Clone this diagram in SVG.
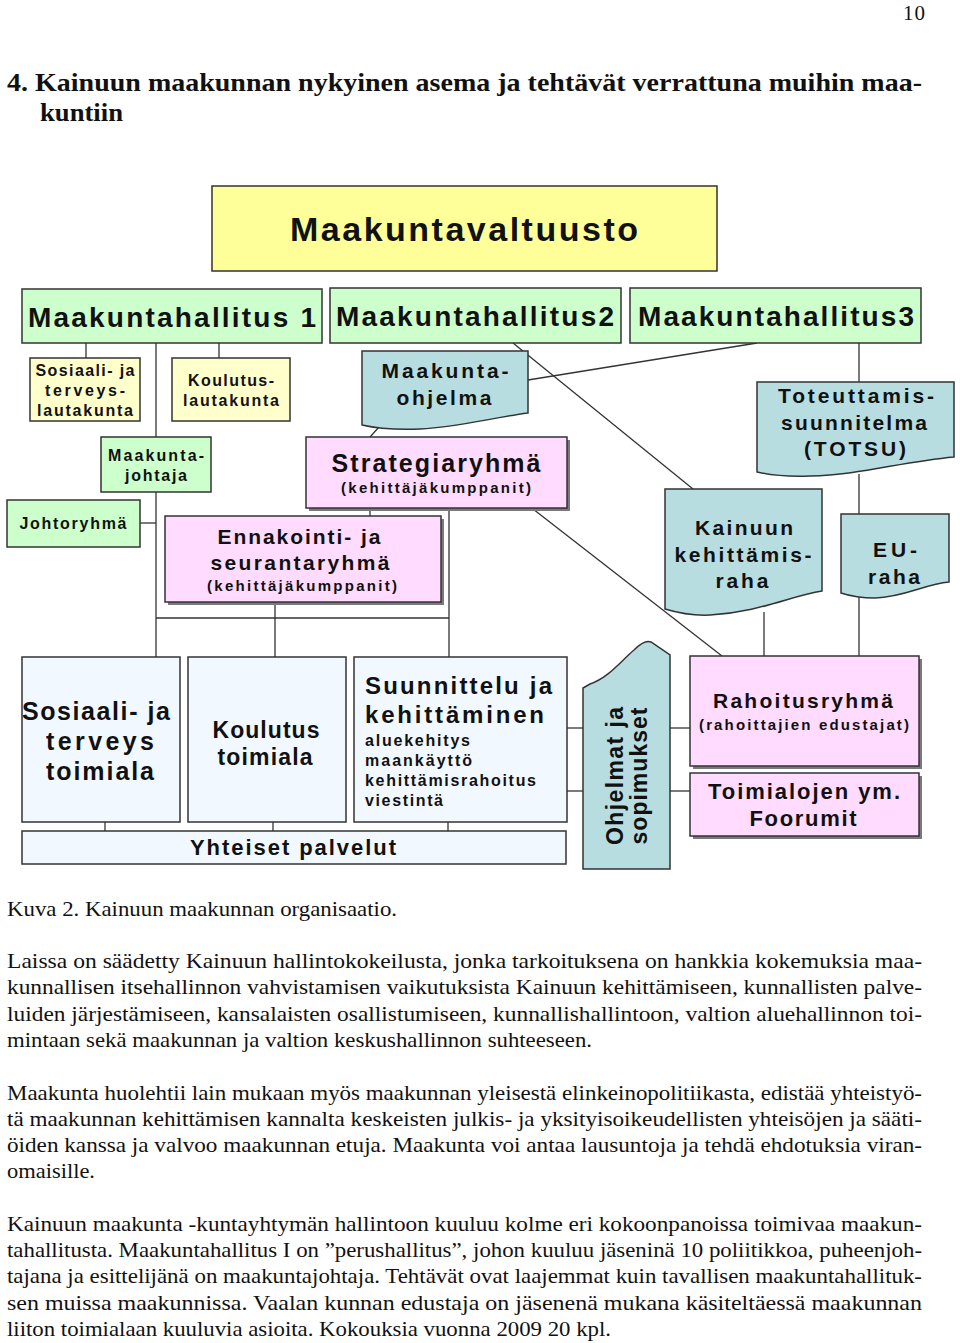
<svg xmlns="http://www.w3.org/2000/svg" width="960" height="1343" viewBox="0 0 960 1343">
<style>
.bx{stroke:#333;stroke-width:1.5}
.g{fill:#ccffcc}.y{fill:#ffff99}.ly{fill:#ffffcc}.p{fill:#ffdcff}.t{fill:#b8dde1}.b{fill:#f2f8ff}
.sh{fill:#7a7a7a}
.l{font-family:"Liberation Sans",Arial,sans-serif;font-weight:bold;fill:#111;text-anchor:middle}
.ll{font-family:"Liberation Sans",Arial,sans-serif;font-weight:bold;fill:#111}
.s{font-family:"Liberation Serif","Times New Roman",serif;fill:#111;font-size:21px}
.h{font-family:"Liberation Serif","Times New Roman",serif;fill:#111;font-size:26px;font-weight:bold}
.c line{stroke:#333;stroke-width:1.3}
</style>
<rect width="960" height="1343" fill="#fff"/>

<g id="page-text">
<text class="s" x="903" y="20" textLength="22">10</text>
<text class="h" x="7" y="91" textLength="915" lengthAdjust="spacingAndGlyphs">4. Kainuun maakunnan nykyinen asema ja tehtävät verrattuna muihin maa-</text>
<text class="h" x="40" y="121" textLength="83" lengthAdjust="spacingAndGlyphs">kuntiin</text>
<text class="s" x="7" y="916" textLength="390" lengthAdjust="spacingAndGlyphs">Kuva 2. Kainuun maakunnan organisaatio.</text>
<text class="s" x="7" y="968" textLength="915" lengthAdjust="spacingAndGlyphs">Laissa on säädetty Kainuun hallintokokeilusta, jonka tarkoituksena on hankkia kokemuksia maa-</text>
<text class="s" x="7" y="994" textLength="915" lengthAdjust="spacingAndGlyphs">kunnallisen itsehallinnon vahvistamisen vaikutuksista Kainuun kehittämiseen, kunnallisten palve-</text>
<text class="s" x="7" y="1021" textLength="915" lengthAdjust="spacingAndGlyphs">luiden järjestämiseen, kansalaisten osallistumiseen, kunnallishallintoon, valtion aluehallinnon toi-</text>
<text class="s" x="7" y="1047" textLength="585" lengthAdjust="spacingAndGlyphs">mintaan sekä maakunnan ja valtion keskushallinnon suhteeseen.</text>
<text class="s" x="7" y="1100" textLength="915" lengthAdjust="spacingAndGlyphs">Maakunta huolehtii lain mukaan myös maakunnan yleisestä elinkeinopolitiikasta, edistää yhteistyö-</text>
<text class="s" x="7" y="1126" textLength="915" lengthAdjust="spacingAndGlyphs">tä maakunnan kehittämisen kannalta keskeisten julkis- ja yksityisoikeudellisten yhteisöjen ja sääti-</text>
<text class="s" x="7" y="1152" textLength="915" lengthAdjust="spacingAndGlyphs">öiden kanssa ja valvoo maakunnan etuja. Maakunta voi antaa lausuntoja ja tehdä ehdotuksia viran-</text>
<text class="s" x="7" y="1178" textLength="88" lengthAdjust="spacingAndGlyphs">omaisille.</text>
<text class="s" x="7" y="1231" textLength="915" lengthAdjust="spacingAndGlyphs">Kainuun maakunta -kuntayhtymän hallintoon kuuluu kolme eri kokoonpanoissa toimivaa maakun-</text>
<text class="s" x="7" y="1257" textLength="915" lengthAdjust="spacingAndGlyphs">tahallitusta. Maakuntahallitus I on ”perushallitus”, johon kuuluu jäseninä 10 poliitikkoa, puheenjoh-</text>
<text class="s" x="7" y="1283" textLength="915" lengthAdjust="spacingAndGlyphs">tajana ja esittelijänä on maakuntajohtaja. Tehtävät ovat laajemmat kuin tavallisen maakuntahallituk-</text>
<text class="s" x="7" y="1310" textLength="915" lengthAdjust="spacingAndGlyphs">sen muissa maakunnissa. Vaalan kunnan edustaja on jäsenenä mukana käsiteltäessä maakunnan</text>
<text class="s" x="7" y="1336" textLength="604" lengthAdjust="spacingAndGlyphs">liiton toimialaan kuuluvia asioita. Kokouksia vuonna 2009 20 kpl.</text>
</g>

<g id="connectors" class="c">
<line x1="86" y1="343" x2="86" y2="358"/>
<line x1="219" y1="343" x2="219" y2="358"/>
<line x1="156" y1="343" x2="156" y2="437"/>
<line x1="156" y1="492" x2="156" y2="657"/>
<line x1="140" y1="523" x2="156" y2="523"/>
<line x1="156" y1="618" x2="449" y2="618"/>
<line x1="449" y1="508" x2="449" y2="657"/>
<line x1="275" y1="602" x2="275" y2="657"/>
<line x1="370" y1="508" x2="370" y2="516"/>
<line x1="379" y1="427" x2="370" y2="437"/>
<line x1="513" y1="343" x2="693" y2="489"/>
<line x1="757" y1="343" x2="528" y2="380"/>
<line x1="859" y1="343" x2="859" y2="382"/>
<line x1="859" y1="474" x2="859" y2="514"/>
<line x1="764" y1="612" x2="764" y2="656"/>
<line x1="859" y1="596" x2="859" y2="656"/>
<line x1="533" y1="509" x2="722" y2="656"/>
<line x1="567" y1="728" x2="583" y2="728"/>
<line x1="567" y1="791" x2="583" y2="791"/>
<line x1="670" y1="728" x2="690" y2="728"/>
<line x1="670" y1="791" x2="690" y2="791"/>
<line x1="105" y1="822" x2="105" y2="831"/>
<line x1="273" y1="822" x2="273" y2="831"/>
<line x1="448" y1="822" x2="448" y2="831"/>
</g>

<g id="maakuntavaltuusto">
<rect class="bx y" x="212" y="186" width="505" height="85"/>
<text class="l" x="464" y="241" font-size="34" textLength="348">Maakuntavaltuusto</text>
</g>
<g id="mh1">
<rect class="bx g" x="22" y="289" width="300" height="54"/>
<text class="l" x="172" y="327" font-size="28" textLength="288">Maakuntahallitus 1</text>
</g>
<g id="mh2">
<rect class="bx g" x="330" y="288" width="291" height="55"/>
<text class="l" x="475" y="326" font-size="28" textLength="278">Maakuntahallitus2</text>
</g>
<g id="mh3">
<rect class="bx g" x="630" y="288" width="291" height="55"/>
<text class="l" x="776" y="326" font-size="28" textLength="276">Maakuntahallitus3</text>
</g>
<g id="sosterlautakunta">
<rect class="bx ly" x="30" y="358" width="110" height="63"/>
<text class="l" x="85" y="376" font-size="16" textLength="99">Sosiaali- ja</text>
<text class="l" x="85" y="396" font-size="16" textLength="80">terveys-</text>
<text class="l" x="85" y="416" font-size="16" textLength="96">lautakunta</text>
</g>
<g id="koulutuslautakunta">
<rect class="bx ly" x="172" y="358" width="118" height="63"/>
<text class="l" x="231" y="386" font-size="16" textLength="86">Koulutus-</text>
<text class="l" x="231" y="406" font-size="16" textLength="96">lautakunta</text>
</g>
<g id="maakuntajohtaja">
<rect class="bx g" x="101" y="437" width="110" height="55"/>
<text class="l" x="156" y="461" font-size="16" textLength="96">Maakunta-</text>
<text class="l" x="156" y="481" font-size="16" textLength="62">johtaja</text>
</g>
<g id="johtoryhma">
<rect class="bx g" x="7" y="500" width="133" height="47"/>
<text class="l" x="73" y="529" font-size="16" textLength="107">Johtoryhmä</text>
</g>
<g id="ennakointi">
<rect class="sh" x="168" y="519" width="276" height="86"/>
<rect class="bx p" x="165" y="516" width="276" height="86"/>
<text class="l" x="299" y="544" font-size="21" textLength="163">Ennakointi- ja</text>
<text class="l" x="300" y="570" font-size="21" textLength="179">seurantaryhmä</text>
<text class="l" x="302" y="591" font-size="15" textLength="190">(kehittäjäkumppanit)</text>
</g>
<g id="maakuntaohjelma">
<path class="bx t" d="M362,351 H528 V413 C490,418 460,427 420,429 C395,430 375,428 362,425 Z"/>
<text class="l" x="445" y="378" font-size="21" textLength="127">Maakunta-</text>
<text class="l" x="444" y="405" font-size="21" textLength="95">ohjelma</text>
</g>
<g id="strategiaryhma">
<rect class="sh" x="309" y="440" width="261" height="71"/>
<rect class="bx p" x="306" y="437" width="261" height="71"/>
<text class="l" x="436" y="472" font-size="25" textLength="209">Strategiaryhmä</text>
<text class="l" x="436" y="493" font-size="15" textLength="190">(kehittäjäkumppanit)</text>
</g>
<g id="totsu">
<path class="bx t" d="M757,382 H954 V457 C900,462 860,475 810,476 C785,477 770,475 757,472 Z"/>
<text class="l" x="856" y="403" font-size="21" textLength="156">Toteuttamis-</text>
<text class="l" x="854" y="430" font-size="21" textLength="146">suunnitelma</text>
<text class="l" x="855" y="456" font-size="21" textLength="102">(TOTSU)</text>
</g>
<g id="kehittamisraha">
<path class="bx t" d="M665,489 H822 V591 C790,596 760,612 710,615 C690,616 675,612 665,609 Z"/>
<text class="l" x="744" y="535" font-size="21" textLength="98">Kainuun</text>
<text class="l" x="743" y="562" font-size="21" textLength="137">kehittämis-</text>
<text class="l" x="742" y="588" font-size="21" textLength="53">raha</text>
</g>
<g id="euraha">
<path class="bx t" d="M841,514 H949 V582 C925,584 905,597 875,598 C860,598 850,596 841,593 Z"/>
<text class="l" x="895" y="557" font-size="21" textLength="44">EU-</text>
<text class="l" x="894" y="584" font-size="21" textLength="52">raha</text>
</g>
<g id="sostertoimiala">
<rect class="bx b" x="22" y="657" width="158" height="165"/>
<text class="l" x="96" y="720" font-size="25" textLength="148">Sosiaali- ja</text>
<text class="l" x="100" y="750" font-size="25" textLength="108">terveys</text>
<text class="l" x="100" y="780" font-size="25" textLength="108">toimiala</text>
</g>
<g id="koulutustoimiala">
<rect class="bx b" x="188" y="657" width="158" height="165"/>
<text class="l" x="266" y="738" font-size="23" textLength="107">Koulutus</text>
<text class="l" x="265" y="765" font-size="23" textLength="95">toimiala</text>
</g>
<g id="suunnittelu">
<rect class="bx b" x="354" y="657" width="213" height="165"/>
<text class="ll" x="365" y="694" font-size="24" textLength="187">Suunnittelu ja</text>
<text class="ll" x="365" y="723" font-size="24" textLength="179">kehittäminen</text>
<text class="ll" x="365" y="746" font-size="16" textLength="105">aluekehitys</text>
<text class="ll" x="365" y="766" font-size="16" textLength="107">maankäyttö</text>
<text class="ll" x="365" y="786" font-size="16" textLength="171">kehittämisrahoitus</text>
<text class="ll" x="365" y="806" font-size="16" textLength="78">viestintä</text>
</g>
<g id="yhteiset">
<rect class="bx b" x="22" y="831" width="544" height="33"/>
<text class="l" x="293" y="855" font-size="22" textLength="206">Yhteiset palvelut</text>
</g>
<g id="ohjelmat">
<path class="bx t" d="M583,869 V688 L590,684 C608,678 620,662 634,650 C640,644 646,640 651,642 L670,655 V869 Z"/>
<text class="l" transform="translate(623,776) rotate(-90)" font-size="23" textLength="138">Ohjelmat ja</text>
<text class="l" transform="translate(647,776) rotate(-90)" font-size="23" textLength="137">sopimukset</text>
</g>
<g id="rahoitusryhma">
<rect class="sh" x="693" y="659" width="229" height="110"/>
<rect class="bx p" x="690" y="656" width="229" height="110"/>
<text class="l" x="803" y="708" font-size="21" textLength="180">Rahoitusryhmä</text>
<text class="l" x="804" y="730" font-size="15" textLength="210">(rahoittajien edustajat)</text>
</g>
<g id="foorumit">
<rect class="sh" x="693" y="776" width="229" height="63"/>
<rect class="bx p" x="690" y="773" width="229" height="63"/>
<text class="l" x="804" y="799" font-size="22" textLength="192">Toimialojen ym.</text>
<text class="l" x="803" y="826" font-size="22" textLength="107">Foorumit</text>
</g>
</svg>
